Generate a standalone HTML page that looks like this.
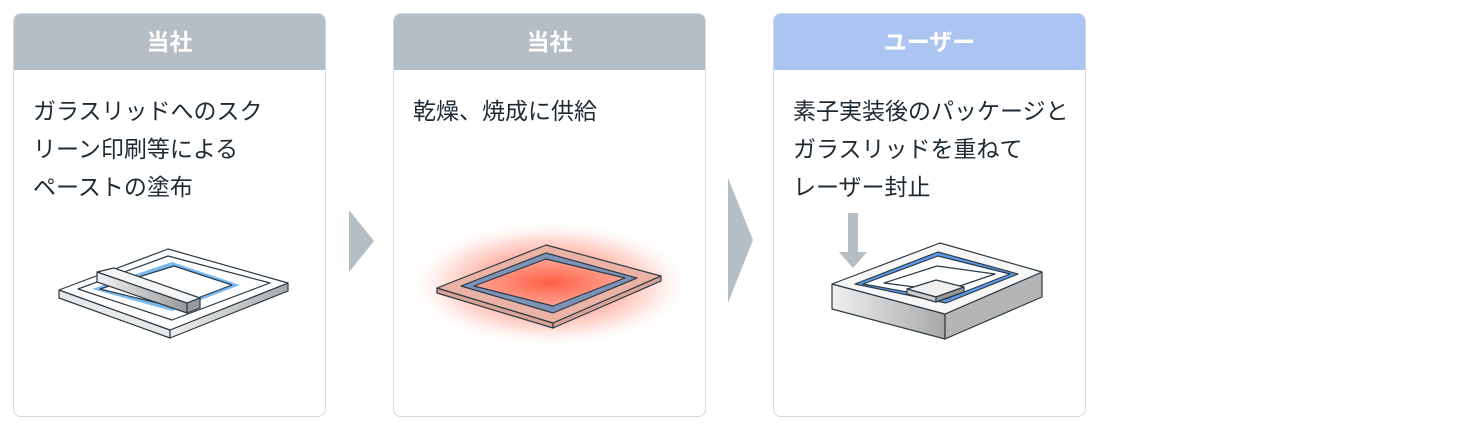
<!DOCTYPE html>
<html><head><meta charset="utf-8"><style>
body{margin:0;width:1480px;height:429px;background:#fff;position:relative;overflow:hidden;font-family:"Liberation Sans","Noto Sans CJK JP",sans-serif}
.p{position:absolute;top:13px;width:313px;height:404px;border:1px solid #d6dadd;border-radius:8px;box-sizing:border-box;overflow:hidden;background:#fff}
.h{height:56px;background:#b5bec4;color:#fff;font-weight:bold;font-size:23px;text-align:center;line-height:56px}
.t{position:absolute;left:19px;top:78px;font-size:23px;line-height:38px;color:#1e2a33;white-space:nowrap}
svg{position:absolute;left:0;top:0}
</style></head><body>
<div class="p" style="left:13px"><div class="h">当社</div><div class="t">ガラスリッドへのスク<br>リーン印刷等による<br>ペーストの塗布</div></div>
<div class="p" style="left:393px"><div class="h">当社</div><div class="t">乾燥、焼成に供給</div></div>
<div class="p" style="left:773px"><div class="h" style="background:#abc4f1">ユーザー</div><div class="t">素子実装後のパッケージと<br>ガラスリッドを重ねて<br>レーザー封止</div></div>
<svg width="1480" height="429">
<defs>
<radialGradient id="glow" cx="50%" cy="50%" r="50%"><stop offset="0" stop-color="#ff5a3c"/><stop offset="0.35" stop-color="#ff7a64" stop-opacity="0.8"/><stop offset="0.7" stop-color="#ffb5a8" stop-opacity="0.45"/><stop offset="1" stop-color="#ffffff" stop-opacity="0"/></radialGradient>
<radialGradient id="inner" cx="50%" cy="50%" r="60%"><stop offset="0" stop-color="#ff5f45"/><stop offset="1" stop-color="#ffb3a3"/></radialGradient>
<linearGradient id="bar" x1="0" x2="1"><stop offset="0" stop-color="#f4f4f4"/><stop offset="1" stop-color="#999"/></linearGradient>
<linearGradient id="side" x1="0" x2="1"><stop offset="0" stop-color="#f0f0f0"/><stop offset="1" stop-color="#a8a8a8"/></linearGradient>
</defs>
<polygon points="349,210 374,241 349,272" fill="#b5bec4"/>
<polygon points="728,178 753,240 728,303" fill="#b5bec4"/>
<g stroke="#2c3a44" stroke-width="1.2" stroke-linejoin="round">
<polygon points="59,290 59,298 170,338 170,330" fill="#e8e8e8"/>
<polygon points="170,330 170,338 288,291 288,283" fill="url(#side)"/>
<polygon points="59,290 168,249 288,283 170,330" fill="#fff"/>
<polygon points="78,289 168,256 270,283 172,320" fill="#fff"/>
<polygon points="92,289 172,262 240,285 172,311" fill="#7ab8f0" stroke="none"/>
<polygon points="100,289 174,266 232,285 174,307" fill="#fff"/>
<polygon points="97,272 187,303 187,313 97,282" fill="url(#bar)"/>
<polygon points="97,272 114,268 200,298 187,303" fill="#f5f5f5"/>
<polygon points="187,303 200,298 200,308 187,313" fill="#999"/>
</g>
<ellipse cx="550" cy="284" rx="145" ry="65" fill="url(#glow)"/>
<g stroke="#2c3a44" stroke-width="1.2" stroke-linejoin="round">
<polygon points="437,288 437,293 553,328 553,323" fill="#d9a497"/>
<polygon points="553,323 553,328 661,281 661,276" fill="#d9a497"/>
<polygon points="437,288 546,245 661,276 553,323" fill="#eab3a5"/>
<polygon points="461,286 546,253 637,278 553,313" fill="#7c93b7"/>
<polygon points="474,286 546,259 625,278 553,306" fill="url(#inner)"/>
</g>
<polygon points="848,213 858,213 858,252 867,252 853,268 839,252 848,252" fill="#b5bec4"/>
<g stroke="#2c3a44" stroke-width="1.2" stroke-linejoin="round">
<polygon points="832,284 832,309 945,339 945,314" fill="url(#side)"/>
<polygon points="945,314 945,339 1042,297 1042,272" fill="#b5b5b5"/>
<polygon points="832,284 940,243 1042,272 945,314" fill="#f7f7f7"/>
<polygon points="855,284 938,252 1018,274 946,303" fill="#5c9ae8"/>
<polygon points="863,284 938,256 1010,274 946,299" fill="#fff"/>
<polygon points="884,283 937,266 995,274 945,291" fill="#fff"/>
<polygon points="907,289 936,280 964,287 936,297" fill="#f0f0f0"/>
<polygon points="907,289 907,294 936,302 936,297" fill="#ccc"/>
<polygon points="936,297 936,302 964,292 964,287" fill="#999"/>
</g>
</svg>
</body></html>
